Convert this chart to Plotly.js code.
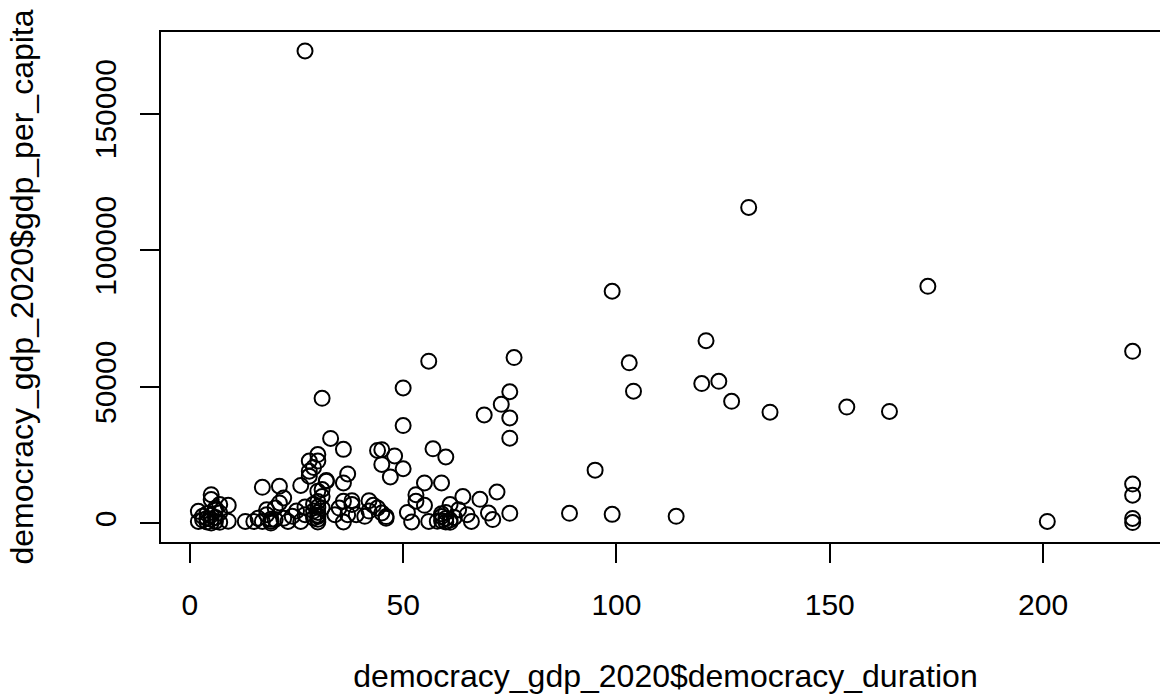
<!DOCTYPE html>
<html>
<head>
<meta charset="utf-8">
<script src="https://cdn.plot.ly/plotly-3.0.1.min.js"></script>
<style>
html,body{margin:0;padding:0;background:#fff;overflow:hidden;width:1160px;height:694px;}
#chart{width:1200px;height:694px;}
</style>
</head>
<body>
<div id="chart"></div>
<script>
// democracy_duration (years)
const democracy_duration = [
  2,2,3,3,4,4,5,5,5,5,6,6,6,7,7,7,9,9,4,5,6,
  13,15,16,17,17,18,18,19,19,20,20,21,21,22,22,23,24,25,19,
  26,26,27,27,27,28,28,28,29,29,29,30,30,30,30,30,30,30,30,30,31,31,31,31,32,32,29,30,
  33,34,35,36,36,36,36,37,37,38,38,39,41,42,43,44,44,45,45,45,46,46,47,48,42,
  50,50,50,51,52,53,53,55,55,56,56,57,59,59,59,59,60,60,60,60,61,61,62,63,64,65,66,68,69,70,71,72,73,75,75,75,75,76,58,61,
  89,95,99,99,103,104,114,120,121,124,127,131,136,154,164,173,201,221,221,221,221,221
];
// gdp_per_capita (USD)
const gdp_per_capita = [
  4400,700,2600,1200,500,3500,100,10500,8700,1500,700,2200,4800,3800,6900,400,6600,800,1800,3000,5500,
  700,700,1900,700,13200,3200,5000,100,1500,1400,5600,13600,7500,9300,1900,700,2600,4500,800,
  700,13900,3200,173000,6000,22800,19100,17300,20500,2000,4500,25200,22800,11800,500,1500,3000,6000,8000,4000,45800,12400,5600,9800,15700,15400,7000,2500,
  31100,3200,5600,27100,14800,8100,500,18100,3200,6900,8300,3200,2600,8300,6600,5600,26700,27000,21600,3800,1900,2500,17000,24700,4500,
  49600,35800,20000,4000,500,10500,8100,6600,14800,59400,700,27300,14800,1000,2500,3500,500,24300,1800,4000,6900,1200,2200,5000,9800,3200,700,8800,39700,3800,1400,11500,43600,48200,38600,31200,3700,60700,800,400,
  3700,19500,85000,3300,58800,48400,2600,51200,66900,52000,44700,115700,40700,42600,41000,86800,700,63000,14400,10300,1800,300
];

const xlabel = "democracy_gdp_2020$democracy_duration";
const ylabel = "democracy_gdp_2020$gdp_per_capita";
const xTicks = [0, 50, 100, 150, 200];
const yTicks = [0, 50000, 100000, 150000];

function rRange(arr){
  const mn = Math.min(...arr), mx = Math.max(...arr);
  const d = (mx - mn) * 0.04;
  return [mn - d, mx + d];
}

const FONT = "Liberation Sans, Arial, Helvetica, sans-serif";
const FS = 30;
const TFS = 32;

const trace = {
  x: democracy_duration,
  y: gdp_per_capita,
  type: 'scatter',
  mode: 'markers',
  marker: {symbol: 'circle-open', size: 15, color: '#000', line: {width: 2, color: '#000'}},
  hoverinfo: 'x+y'
};

const layout = {
  width: 1200, height: 694,
  margin: {l: 161, r: 30, t: 32, b: 152},
  paper_bgcolor: '#fff', plot_bgcolor: '#fff',
  showlegend: false,
  font: {family: FONT, size: FS, color: '#000'},
  xaxis: {
    range: rRange(democracy_duration),
    tickmode: 'array', tickvals: xTicks, ticktext: xTicks.map(String),
    showgrid: false, zeroline: false,
    showline: true, mirror: true, linecolor: '#000', linewidth: 2,
    ticks: 'outside', ticklen: 19, tickwidth: 2, tickcolor: '#000',
    ticklabelstandoff: 16,
    tickfont: {family: FONT, size: FS, color: '#000'},
    title: {text: xlabel, font: {family: FONT, size: TFS, color: '#000'}, standoff: 48},
    automargin: false
  },
  yaxis: {
    range: rRange(gdp_per_capita),
    tickmode: 'array', tickvals: yTicks, ticktext: yTicks.map(String),
    showgrid: false, zeroline: false,
    showline: true, mirror: true, linecolor: '#000', linewidth: 2,
    ticks: 'outside', ticklen: 19, tickwidth: 2, tickcolor: '#000',
    tickangle: -90,
    ticklabelstandoff: 12,
    tickfont: {family: FONT, size: FS, color: '#000'},
    title: {text: ylabel, font: {family: FONT, size: TFS, color: '#000'}, standoff: 46},
    automargin: false
  }
};

Plotly.newPlot('chart', [trace], layout, {displayModeBar: false, staticPlot: true});
</script>
</body>
</html>
